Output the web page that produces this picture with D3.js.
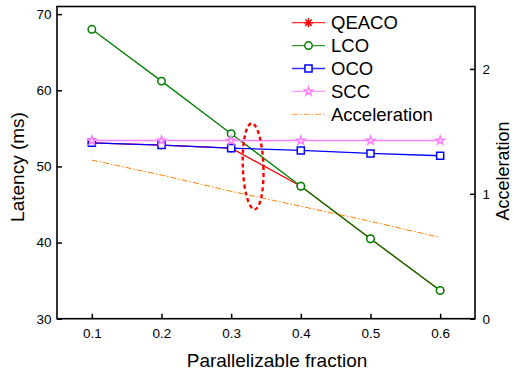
<!DOCTYPE html>
<html><head><meta charset="utf-8">
<script src="https://cdn.jsdelivr.net/npm/d3@7"></script>
<style>body{margin:0;background:#fff}svg{display:block;font-family:Arial,"Liberation Sans",sans-serif}</style>
</head><body>
<svg id="c" width="514" height="374"></svg>
<script>
const fractions = [0.1, 0.2, 0.3, 0.4, 0.5, 0.6];
const qeaco = [53.1, 52.8, 52.4, 47.4, 40.5, 33.7];
const lco = [68.0, 61.2, 54.3, 47.4, 40.5, 33.7];
const oco = [53.1, 52.8, 52.4, 52.1, 51.7, 51.4];
const scc = [53.4, 53.4, 53.4, 53.4, 53.4, 53.4];
const acceleration = [1.27, 1.15, 1.02, 0.90, 0.78, 0.65];
const xTicks = [0.1, 0.2, 0.3, 0.4, 0.5, 0.6];
const yLeftTicks = [30, 40, 50, 60, 70];
const yRightTicks = [0, 1, 2];
const seriesNames = ["QEACO", "LCO", "OCO", "SCC", "Acceleration"];

const svg = d3.select("#c");
const L = 57, R = 475, T = 6.5, B = 318.7;
const x = d3.scaleLinear().domain([0.05, 0.65]).range([L, R]);
const yL = d3.scaleLinear().domain([30, 71]).range([B, T]);
const yR = d3.scaleLinear().domain([0, 2.5]).range([B, T]);

// axes
const tickFont = "13.5px";
const gx = svg.append("g").attr("transform", `translate(0,${B})`)
  .call(d3.axisBottom(x).tickValues(xTicks).tickSize(-5).tickPadding(9.7).tickFormat(d3.format(".1f")));
const gl = svg.append("g").attr("transform", `translate(${L},0)`)
  .call(d3.axisLeft(yL).tickValues(yLeftTicks).tickSize(-5).tickPadding(5.5).tickFormat(d3.format("d")));
const gr = svg.append("g").attr("transform", `translate(${R},0)`)
  .call(d3.axisRight(yR).tickValues(yRightTicks).tickSize(-5).tickPadding(7.5).tickFormat(d3.format("d")));
[gx, gl, gr].forEach(g => {
  g.select(".domain").remove();
  g.selectAll("line").attr("stroke", "#000").attr("stroke-width", 1.5);
  g.selectAll("text").attr("font-size", tickFont).attr("fill", "#000").attr("font-family", "Arial, 'Liberation Sans', sans-serif");
});

// frame
svg.append("rect").attr("x", L).attr("y", T).attr("width", R - L).attr("height", B - T)
  .attr("fill", "none").attr("stroke", "#000").attr("stroke-width", 1.6);

// titles
svg.append("text").attr("transform", `translate(24,167) rotate(-90)`).attr("text-anchor", "middle")
  .attr("font-size", "19px").text("Latency (ms)");
svg.append("text").attr("transform", `translate(509,171) rotate(-90)`).attr("text-anchor", "middle")
  .attr("font-size", "18px").text("Acceleration");
svg.append("text").attr("x", 277).attr("y", 366.5).attr("text-anchor", "middle")
  .attr("font-size", "19px").text("Parallelizable fraction");

const colors = {QEACO: "#ff0000", LCO: "#008000", OCO: "#0000ff", SCC: "#ff80ff", Acceleration: "#ff8000"};
const lineL = d3.line().x((d, i) => x(fractions[i])).y(d => yL(d));
const lineR = d3.line().x((d, i) => x(fractions[i])).y(d => yR(d));

const starPath = d3.symbol(d3.symbolStar, 22)();
const circlePath = d3.symbol(d3.symbolCircle, 44)();
const squarePath = d3.symbol(d3.symbolSquare, 50)();
function asterisk(s) { // 8-spoke asterisk
  const r = s, a = r * Math.SQRT1_2;
  return `M${-r},0L${r},0M0,${-r}L0,${r}M${-a},${-a}L${a},${a}M${-a},${a}L${a},${-a}`;
}

const plot = svg.append("g");
// Acceleration (right axis)
plot.append("path").datum(acceleration).attr("d", lineR).attr("fill", "none")
  .attr("stroke", colors.Acceleration).attr("stroke-width", 1).attr("stroke-dasharray", "6,2,1.5,2");

function series(data, name, marker) {
  plot.append("path").datum(data).attr("d", lineL).attr("fill", "none")
    .attr("stroke", colors[name]).attr("stroke-width", 1.3);
  plot.selectAll(null).data(data).enter().append("path")
    .attr("transform", (d, i) => `translate(${x(fractions[i])},${yL(d)})`)
    .attr("d", marker).attr("fill", name === "QEACO" ? "none" : "#fff")
    .attr("stroke", colors[name]).attr("stroke-width", name === "QEACO" ? 1.3 : 1.5);
}
series(qeaco, "QEACO", asterisk(4.5));
series(lco, "LCO", circlePath);
series(oco, "OCO", squarePath);
series(scc, "SCC", starPath);

// annotation ellipse
const ecx = 0.3315, ecy = 50.0, erx = 0.0148, ery = 5.65;
svg.append("ellipse").attr("cx", x(ecx)).attr("cy", yL(ecy))
  .attr("rx", x(ecx + erx) - x(ecx)).attr("ry", yL(ecy) - yL(ecy + ery))
  .attr("transform", `rotate(-2,${x(ecx)},${yL(ecy)})`)
  .attr("fill", "none").attr("stroke", "#ff0000").attr("stroke-width", 2.4).attr("stroke-dasharray", "4,3");

// legend
const lg = svg.append("g");
const markers = {QEACO: asterisk(4.5), LCO: circlePath, OCO: squarePath, SCC: starPath};
seriesNames.forEach((n, i) => {
  const cy = 22.7 + i * 22.9;
  const g = lg.append("g").attr("transform", `translate(0,${cy})`);
  g.append("line").attr("x1", 292).attr("x2", 325).attr("y1", 0).attr("y2", 0)
    .attr("stroke", colors[n]).attr("stroke-width", n === "Acceleration" ? 1 : 1.3)
    .attr("stroke-dasharray", n === "Acceleration" ? "6,2,1.5,2" : null).attr("opacity", 0.8);
  if (markers[n]) g.append("path").attr("transform", "translate(308.5,0)").attr("d", markers[n])
    .attr("fill", n === "QEACO" ? "none" : "#fff").attr("stroke", colors[n]).attr("stroke-width", 1.5);
  g.append("text").attr("x", 331).attr("y", 6.7).attr("font-size", "18.5px").text(n);
});
</script>
</body></html>
